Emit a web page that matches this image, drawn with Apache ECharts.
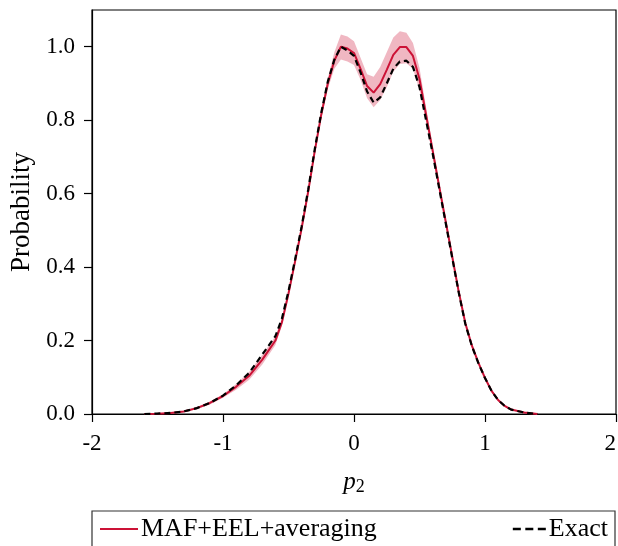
<!DOCTYPE html>
<html><head><meta charset="utf-8">
<script src="https://cdn.jsdelivr.net/npm/echarts@6/dist/echarts.min.js"></script>
<style>html,body{margin:0;padding:0;background:#fff}#c{width:618px;height:546px}</style>
</head><body><div id="c"></div>
<script>
var xs = [-1.6,-1.5,-1.4,-1.3,-1.2,-1.1,-1.0,-0.9,-0.8,-0.7,-0.6,-0.55,-0.5,-0.45,-0.4,-0.35,-0.3,-0.25,-0.2,-0.15,-0.1,-0.05,0,0.05,0.1,0.15,0.2,0.25,0.3,0.35,0.4,0.45,0.5,0.55,0.6,0.65,0.7,0.75,0.8,0.85,0.9,0.95,1.0,1.05,1.1,1.15,1.2,1.3,1.4];
var exact = [0,0.001,0.003,0.007,0.016,0.03,0.05,0.078,0.112,0.162,0.212,0.26,0.335,0.42,0.51,0.61,0.72,0.82,0.905,0.965,1.0,0.99,0.975,0.93,0.878,0.848,0.862,0.90,0.94,0.96,0.962,0.945,0.89,0.80,0.71,0.615,0.52,0.425,0.33,0.245,0.185,0.138,0.098,0.063,0.038,0.022,0.012,0.004,0];
var mafMean = [0,0.001,0.003,0.007,0.016,0.03,0.049,0.074,0.104,0.148,0.2,0.25,0.328,0.415,0.505,0.605,0.715,0.815,0.9,0.962,1.0,0.995,0.983,0.94,0.893,0.875,0.898,0.937,0.978,0.999,0.999,0.975,0.912,0.815,0.718,0.62,0.524,0.428,0.332,0.247,0.186,0.139,0.098,0.063,0.038,0.022,0.012,0.004,0];
var mafLow = [0,0.0005,0.002,0.005,0.013,0.026,0.044,0.066,0.093,0.135,0.188,0.24,0.318,0.405,0.495,0.595,0.705,0.803,0.885,0.94,0.965,0.96,0.95,0.91,0.86,0.835,0.855,0.89,0.932,0.953,0.955,0.94,0.882,0.795,0.705,0.61,0.515,0.42,0.325,0.241,0.181,0.135,0.095,0.06,0.036,0.02,0.011,0.003,0];
var mafHigh = [0,0.0015,0.004,0.009,0.019,0.034,0.054,0.082,0.115,0.161,0.212,0.26,0.338,0.425,0.515,0.615,0.725,0.827,0.915,0.985,1.033,1.028,1.015,0.97,0.925,0.918,0.945,0.985,1.025,1.042,1.038,1.01,0.942,0.835,0.731,0.63,0.533,0.436,0.339,0.253,0.191,0.143,0.101,0.066,0.04,0.024,0.013,0.005,0];
var xTicks = [-2,-1,0,1,2];
var yTicks = [0,0.2,0.4,0.6,0.8,1.0];

function pairs(ys){ return xs.map(function(x,i){ return [x, ys[i]]; }); }

var RED = '#cc1236';
var FONT = 'Liberation Serif';
var chart = echarts.init(document.getElementById('c'), null, {renderer:'canvas'});
chart.setOption({
  animation:false,
  backgroundColor:'#fff',
  grid:{left:92,right:2,top:10,bottom:132,outerBoundsMode:'none',containLabel:false,show:true,borderColor:'#000',borderWidth:1.2,backgroundColor:'transparent'},
  xAxis:{type:'value',min:-2,max:2,interval:1,
    axisLine:{onZero:false,lineStyle:{color:'#000',width:1.2}},
    axisTick:{length:8,lineStyle:{color:'#000',width:1.2},customValues:xTicks},
    axisLabel:{color:'#000',fontFamily:FONT,fontSize:23,margin:18,customValues:xTicks,alignMaxLabel:'right',formatter:function(v){return String(v);}},
    splitLine:{show:false},
    name:'{i|p}{s|2}',nameLocation:'middle',nameGap:54,
    nameTextStyle:{rich:{i:{fontFamily:FONT,fontStyle:'italic',fontSize:25,color:'#000'},s:{fontFamily:FONT,fontSize:18,color:'#000',padding:[10,0,0,0]}}}
  },
  yAxis:{type:'value',min:0,max:1.1,interval:0.2,
    axisLine:{onZero:false,lineStyle:{color:'#000',width:1.2}},
    axisTick:{length:8,lineStyle:{color:'#000',width:1.2},customValues:yTicks},
    axisLabel:{color:'#000',fontFamily:FONT,fontSize:23,margin:17,customValues:yTicks,formatter:function(v){return v.toFixed(1);}},
    splitLine:{show:false},
    name:'Probability',nameLocation:'middle',nameGap:56,
    nameTextStyle:{fontFamily:FONT,fontSize:27,color:'#000'}
  },
  legend:[
    {data:[{name:'MAF+EEL+averaging',icon:'path://M0,0h38v2.2h-38z'}],left:100,top:516,itemWidth:38,itemHeight:14,padding:0,
     textStyle:{fontFamily:FONT,fontSize:26,color:'#000',padding:[0,0,0,-2]}},
    {data:[{name:'Exact',icon:'path://M0,0h8v2.4h-8z M12.5,0h8v2.4h-8z M25,0h8v2.4h-8z'}],right:10,top:516,itemWidth:33,itemHeight:14,padding:0,
     textStyle:{fontFamily:FONT,fontSize:26,color:'#000',padding:[0,0,0,-2]}}
  ],
  graphic:[{type:'rect',shape:{x:92,y:511,width:523,height:50},style:{fill:'none',stroke:'#333',lineWidth:1.2},silent:true}],
  series:[
    {name:'_band',type:'custom',data:[[xs[0],mafLow[0]]],silent:true,z:1,clip:true,
     renderItem:function(params, api){
       var pts = [];
       for (var i=0;i<xs.length;i++) pts.push(api.coord([xs[i], mafHigh[i]]));
       for (var j=xs.length-1;j>=0;j--) pts.push(api.coord([xs[j], mafLow[j]]));
       return {type:'polygon',shape:{points:pts},style:{fill:'rgba(204,18,54,0.3)',stroke:'none'}};
     }},
    {name:'MAF+EEL+averaging',type:'line',data:pairs(mafMean),symbol:'none',color:RED,lineStyle:{color:RED,width:2},z:3},
    {name:'Exact',type:'line',data:pairs(exact),symbol:'none',color:'#000',lineStyle:{color:'#000',width:2.2,type:[6,4]},z:4}
  ]
});
</script></body></html>
